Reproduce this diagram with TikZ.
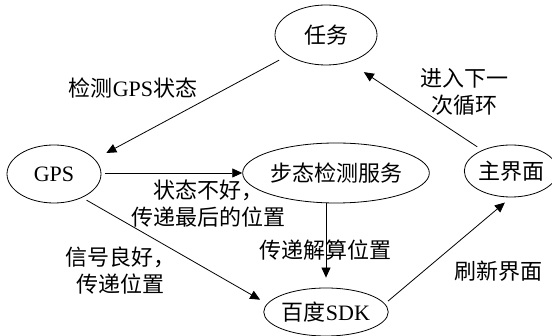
\documentclass[tikz,border=0pt]{standalone}
\usepackage{fontspec}
\setmainfont{Liberation Serif}
\newfontfamily\cjk{Noto Sans CJK SC}
\newcommand\zh[1]{{\cjk #1}}
\usetikzlibrary{shapes.geometric,arrows.meta}
\begin{document}
\begin{tikzpicture}[x=1pt,y=-1pt,
  every node/.style={font=\fontsize{22}{27}\selectfont},
  oval/.style={draw,ellipse,line width=0.8pt,inner sep=0pt},
  lbl/.style={align=center,inner sep=0pt},
  conn/.style={line width=0.8pt,-{Triangle[length=10pt,width=9pt]}}]
\useasboundingbox (0,0) rectangle (552,336);
\node[oval,minimum width=102pt,minimum height=60pt] (task) at (326,35) {\zh{任务}};
\node[oval,minimum width=94pt,minimum height=58pt] (gps) at (54,174) {GPS};
\node[oval,minimum width=136pt,minimum height=60pt] (gait) at (336,173) {\zh{步态检测服务}};
\node[oval,minimum width=78pt,minimum height=52pt] (main) at (511,171) {\zh{主界面}};
\node[oval,minimum width=122pt,minimum height=48pt] (sdk) at (326,312) {\zh{百度}SDK};

\draw[conn,shorten <=10pt,shorten >=13pt] (task) -- (gps.20);
\draw[conn,shorten <=4pt] (gps.east |- gait.west) -- (gait.west);
\draw[conn,shorten <=5pt,shorten >=8pt] (gps.-40) -- (sdk.172);
\draw[conn,shorten >=10pt] (gait.south -| sdk.north) -- (sdk.north);
\draw[conn,shorten <=4pt,shorten >=8pt] (sdk.8) -- (main.south);
\draw[conn,shorten <=6pt,shorten >=18pt] (main.144) -- (task.-50);

\node[lbl] (l1) at (133,88) {\zh{检测}GPS\zh{状态}};
\node[lbl] (l2) at (464,92) {\zh{进入下一}\\\zh{次循环}};
\node[lbl] (l3) at (208,204) {\zh{状态不好，}\\\zh{传递最后的位置}};
\node[lbl] (l4) at (325,250) {\zh{传递解算位置}};
\node[lbl] (l5) at (120,271) {\zh{信号良好，}\\\zh{传递位置}};
\node[lbl] (l6) at (498,271) {\zh{刷新界面}};
\end{tikzpicture}
\end{document}
